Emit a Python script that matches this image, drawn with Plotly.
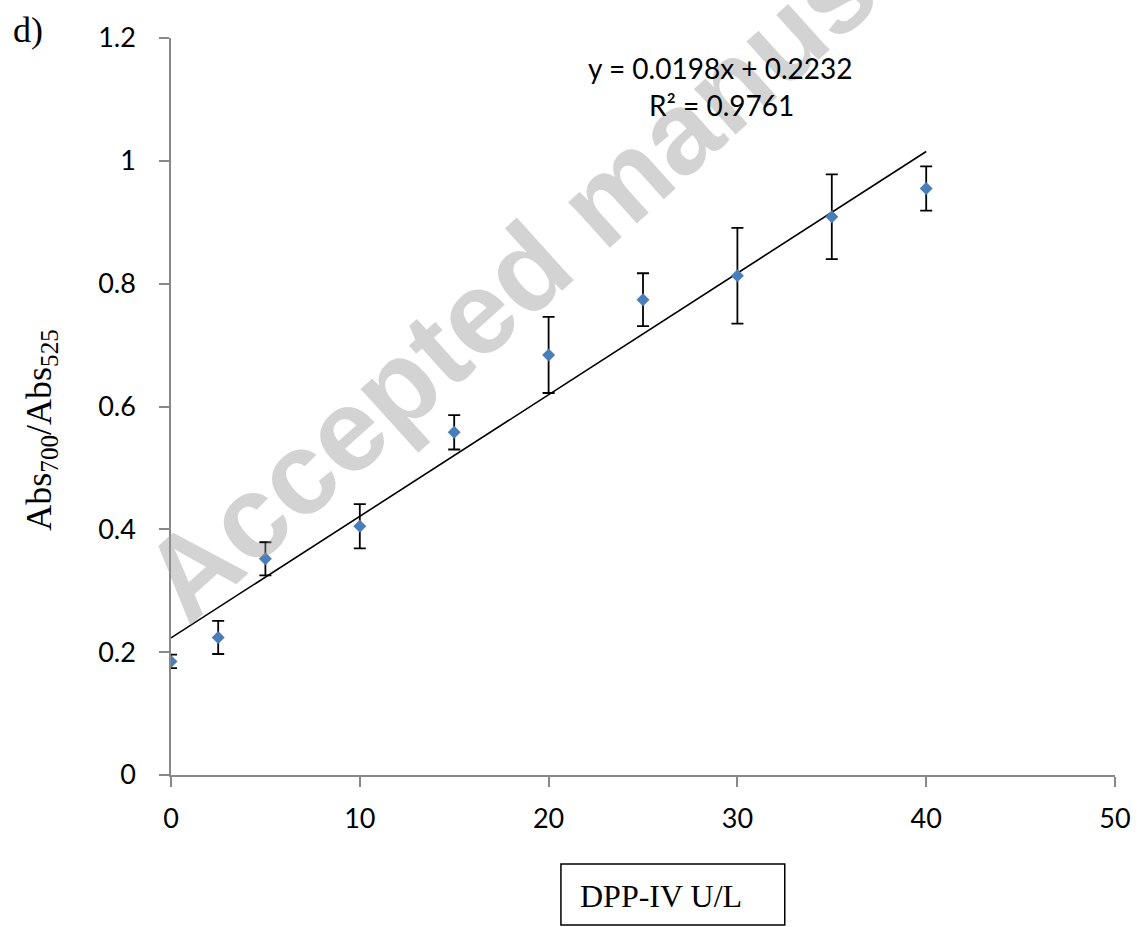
import plotly.graph_objects as go

# Data
dpp_units = [0, 2.5, 5, 10, 15, 20, 25, 30, 35, 40]
abs_ratio = [0.185, 0.224, 0.352, 0.405, 0.558, 0.684, 0.774, 0.813, 0.909, 0.955]
abs_err = [0.011, 0.027, 0.027, 0.036, 0.028, 0.062, 0.043, 0.078, 0.069, 0.036]

# Linear trendline as reported on the chart
slope = 0.0198
intercept = 0.2232
r_squared = 0.9761
trend_x = [0, 40]
trend_y = [slope * v + intercept for v in trend_x]

x_ticks = [0, 10, 20, 30, 40, 50]
y_ticks = [0, 0.2, 0.4, 0.6, 0.8, 1.0, 1.2]

W, H = 1143, 927
L, R, T, B = 171, 23, 38, 152
pw, ph = W - L - R, H - T - B


def px(x):
    return (x - L) / pw


def py(y):
    return (H - B - y) / ph


fig = go.Figure()

fig.add_trace(go.Scatter(
    x=trend_x, y=trend_y, mode="lines",
    line=dict(color="black", width=1.6),
    hoverinfo="skip", showlegend=False,
))

fig.add_trace(go.Scatter(
    x=dpp_units, y=abs_ratio, mode="markers",
    marker=dict(symbol="diamond", size=10, color="#4a7ebb"),
    error_y=dict(type="data", array=abs_err, visible=True,
                 color="black", thickness=1.8, width=6),
    showlegend=False,
))

sans = "Lato, Open Sans, sans-serif"
tick_font = dict(family=sans, size=27, color="black")
serif = "Liberation Serif, Times New Roman, serif"

fig.update_layout(
    width=W, height=H,
    margin=dict(l=L, r=R, t=T, b=B),
    paper_bgcolor="white", plot_bgcolor="white",
    xaxis=dict(
        range=[0, 50], tickvals=x_ticks, showgrid=False, zeroline=False,
        showline=True, linecolor="#888888", linewidth=1.5,
        ticks="outside", ticklen=10, tickcolor="#888888", tickwidth=1.5,
        tickfont=tick_font, ticklabelstandoff=9,
    ),
    yaxis=dict(
        range=[0, 1.2], tickvals=y_ticks, showgrid=False, zeroline=False,
        showline=True, linecolor="#888888", linewidth=1.5,
        ticks="outside", ticklen=10, tickcolor="#888888", tickwidth=1.5,
        tickfont=tick_font, ticklabelstandoff=18,
    ),
)


def note(text, x, y, font, angle=0):
    return dict(text=text, xref="paper", yref="paper", x=px(x), y=py(y),
                xanchor="center", yanchor="middle", showarrow=False,
                textangle=angle, font=font)


annotations = [
    note("<b>Accepted manuscript</b>", 605, 199,
         dict(family="Liberation Sans, Arial, sans-serif", size=117,
              color="rgba(150,150,150,0.42)"), angle=-42),
    note(f"y = {slope}x + {intercept}", 723, 68, dict(family=sans, size=28, color="black")),
    note(f"R² = {r_squared}", 724, 105, dict(family=sans, size=28, color="black")),
    note("d)", 27, 30, dict(family=serif, size=36, color="black")),
    note("Abs<sub>700</sub>/Abs<sub>525</sub>", 40, 430,
         dict(family=serif, size=36, color="black"), angle=-90),
    note("DPP-IV U/L", 664, 896, dict(family=serif, size=32, color="black")),
]
fig.update_layout(annotations=annotations)

fig.add_shape(type="rect", xref="paper", yref="paper",
              x0=px(563), x1=px(788), y0=py(925), y1=py(864),
              line=dict(color="black", width=1.5), fillcolor="rgba(0,0,0,0)")

fig.write_html("out.html", config={"displayModeBar": False},
               post_script="document.body.style.margin='0';")
